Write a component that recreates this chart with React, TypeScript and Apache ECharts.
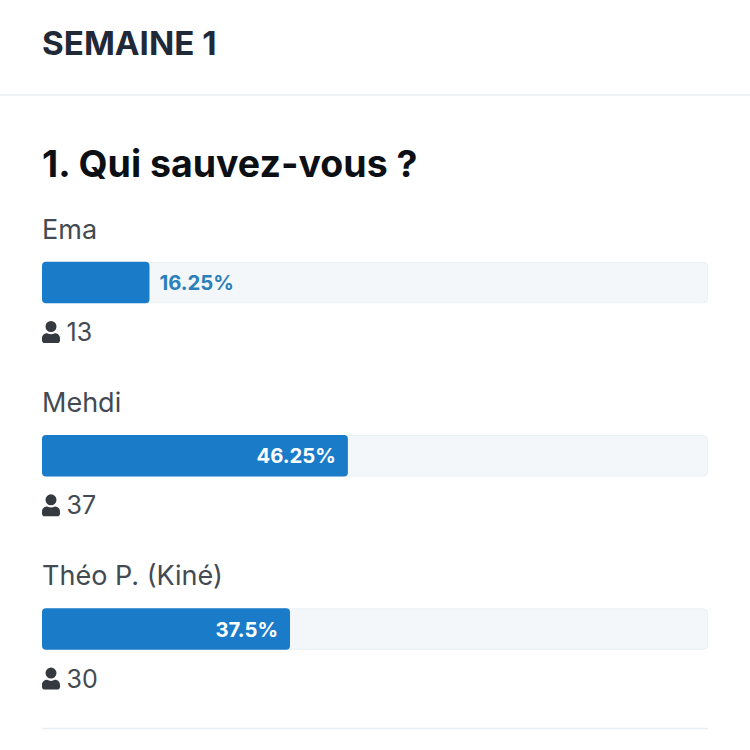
import React, { useEffect, useRef } from "react";
import * as echarts from "echarts";

const heading = "SEMAINE 1";
const question = "1. Qui sauvez-vous ?";
const candidates = ["Ema", "Mehdi", "Théo P. (Kiné)"];
const percentages = [16.25, 46.25, 37.5];
const voteCounts = [13, 37, 30];

const FONT = "Inter, 'Noto Sans', sans-serif";
const LEFT = 42;
const WIDTH = 666;
const ROW = 173.3;
const TOP = 282.5 - ROW / 2;
const AXIS_MAX = 100.7;
const BAR = 41.5;

const USER =
  "M9 11a5.5 5.5 0 1 0 0-11 5.5 5.5 0 0 0 0 11ZM5 12.2C2.2 12.2 0 14.4 0 17.2v2.2C0 20.9 1.1 22 2.6 22h12.8c1.5 0 2.6-1.1 2.6-2.6v-2.2c0-2.8-2.2-5-5-5-1.4.7-2.8 1.1-4 1.1s-2.6-.4-4-1.1Z";
echarts.graphic.registerShape("userIconPath", echarts.graphic.extendPath(USER, {}));

export default function App() {
  const ref = useRef<HTMLDivElement>(null);
  useEffect(() => {
    document.body.style.margin = "0";
    document.body.style.background = "#fff";
    const chart = echarts.init(ref.current!, undefined, { renderer: "svg" });
    chart.setOption({
      animation: false,
      backgroundColor: "#ffffff",
      grid: { left: LEFT, top: TOP, width: WIDTH, height: ROW * 3 },
      xAxis: { type: "value", min: 0, max: AXIS_MAX, show: false },
      yAxis: { type: "category", data: candidates, inverse: true, show: false },
      series: [
        {
          type: "bar",
          barWidth: BAR,
          barGap: "-100%",
          silent: true,
          data: candidates.map(() => AXIS_MAX),
          itemStyle: { color: "#f3f7fa", borderColor: "#ebf0f4", borderWidth: 1, borderRadius: 4 },
          label: {
            show: true,
            position: "insideLeft",
            distance: 0,
            offset: [0, -53.5],
            formatter: (p: any) => candidates[p.dataIndex],
            fontFamily: FONT,
            fontSize: 27,
            color: "#434a52",
          },
          z: 1,
        },
        {
          type: "bar",
          barWidth: BAR,
          barGap: "-100%",
          silent: true,
          data: percentages.map((v) => {
            const inside = v >= 20;
            return {
              value: v,
              label: inside
                ? { position: "insideRight", distance: 12, color: "#ffffff" }
                : { position: "right", distance: 10, color: "#2b80b9" },
            };
          }),
          itemStyle: { color: "#1a7bc9", borderRadius: 4 },
          label: {
            show: true,
            formatter: (p: any) => `${percentages[p.dataIndex]}%`,
            fontFamily: FONT,
            fontSize: 20.3,
            fontWeight: 700,
          },
          z: 2,
        },
        {
          type: "bar",
          barWidth: BAR,
          barGap: "-100%",
          silent: true,
          data: candidates.map(() => AXIS_MAX),
          itemStyle: { color: "transparent" },
          label: {
            show: true,
            position: "insideLeft",
            distance: 0,
            offset: [24.5, 49.5],
            formatter: (p: any) => String(voteCounts[p.dataIndex]),
            fontFamily: FONT,
            fontSize: 25,
            color: "#434a52",
          },
          z: 3,
        },
      ],
      graphic: [
        { type: "text", x: LEFT, y: 43, style: { text: heading, font: `700 33.2px ${FONT}`, fill: "#1f2937", textVerticalAlign: "middle" } },
        { type: "line", shape: { x1: 0, y1: 95, x2: 750, y2: 95 }, style: { stroke: "#e9eef2", lineWidth: 1.5 } },
        { type: "text", x: LEFT, y: 163, style: { text: question, font: `700 37.5px ${FONT}`, fill: "#0c1015", textVerticalAlign: "middle" } },
        ...candidates.map((_, i) => ({
          type: "userIconPath",
          x: LEFT,
          y: TOP + ROW * (i + 0.5) + 38.5,
          style: { fill: "#343a40" },
        })),
        { type: "line", shape: { x1: LEFT, y1: 728.5, x2: LEFT + WIDTH, y2: 728.5 }, style: { stroke: "#e9eef2", lineWidth: 1.5 } },
      ],
    });
    return () => chart.dispose();
  }, []);
  return <div ref={ref} style={{ width: 750, height: 750 }} />;
}
